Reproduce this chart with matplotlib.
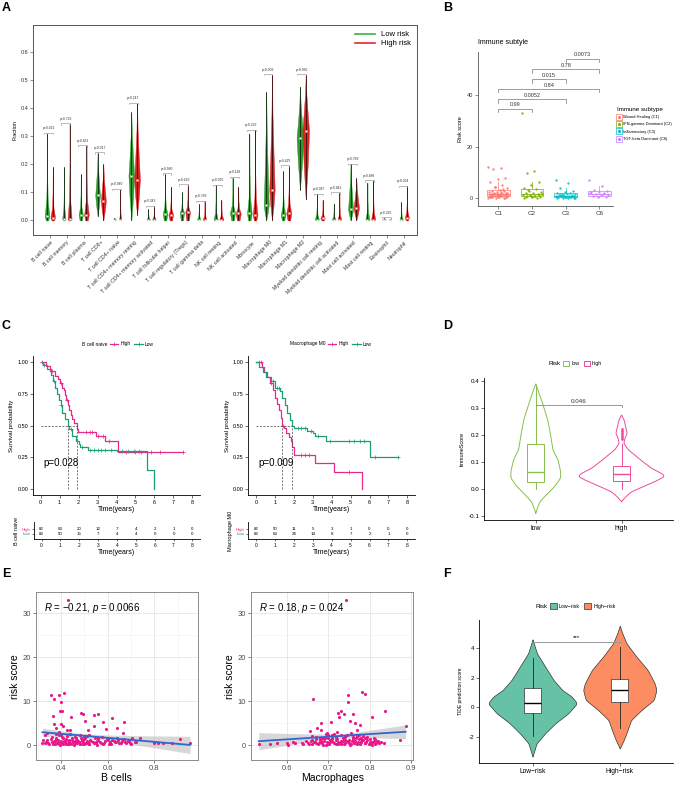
import numpy as np
import matplotlib
matplotlib.use('Agg')
import matplotlib.pyplot as plt
from matplotlib.lines import Line2D
from matplotlib.patches import Patch

plt.rcParams['font.family'] = ['Liberation Sans', 'DejaVu Sans']
plt.rcParams['mathtext.fontset'] = 'custom'
plt.rcParams['mathtext.it'] = 'Liberation Sans:italic'
plt.rcParams['mathtext.rm'] = 'Liberation Sans'
plt.rcParams['axes.linewidth'] = 0.6
plt.rcParams['xtick.major.width'] = 0.5
plt.rcParams['ytick.major.width'] = 0.5
plt.rcParams['xtick.major.size'] = 2
plt.rcParams['ytick.major.size'] = 2
plt.rcParams['xtick.major.pad'] = 1.5
plt.rcParams['ytick.major.pad'] = 1.5

# ---------------- data: panel A ----------------
cells = ['B cell naive', 'B cell memory', 'B cell plasma', 'T cell CD8+', 'T cell CD4+ naive',
         'T cell CD4+ memory resting', 'T cell CD4+ memory activated', 'T cell follicular helper',
         'T cell regulatory (Tregs)', 'T cell gamma delta', 'NK cell resting', 'NK cell activated',
         'Monocyte', 'Macrophage M0', 'Macrophage M1', 'Macrophage M2',
         'Myeloid dendritic cell resting', 'Myeloid dendritic cell activated', 'Mast cell activated',
         'Mast cell resting', 'Eosinophil', 'Neutrophil']
low_max = [0.31, 0.19, 0.165, 0.24, 0.01, 0.385, 0.04, 0.165, 0.10, 0.058, 0.125, 0.153,
           0.31, 0.457, 0.175, 0.477, 0.093, 0.06, 0.20, 0.135, 0.008, 0.065]
high_max = [0.19, 0.345, 0.266, 0.20, 0.11, 0.417, 0.05, 0.12, 0.127, 0.068, 0.073, 0.12,
            0.321, 0.52, 0.194, 0.52, 0.073, 0.097, 0.15, 0.141, 0.005, 0.121]
low_min = [0, 0, 0, 0.015, 0, 0, 0, 0, 0, 0, 0, 0, 0, 0, 0, 0.11, 0, 0, 0, 0, 0, 0]
high_min = [0, 0, 0, 0, 0, 0.02, 0, 0, 0, 0, 0, 0, 0, 0, 0, 0.075, 0, 0, 0, 0, 0, 0]
low_med = [0.015, 0.005, 0.02, 0.09, 0.0, 0.16, 0.0, 0.022, 0.028, 0.0, 0.003, 0.028,
           0.025, 0.055, 0.02, 0.295, 0.002, 0.0, 0.04, 0.003, 0.0, 0.003]
high_med = [0.01, 0.005, 0.02, 0.07, 0.0, 0.145, 0.0, 0.02, 0.03, 0.0, 0.003, 0.025,
            0.02, 0.11, 0.025, 0.32, 0.008, 0.0, 0.045, 0.003, 0.0, 0.01]
low_w = [0.14, 0.10, 0.13, 0.14, 0.08, 0.17, 0.10, 0.14, 0.13, 0.10, 0.12, 0.15,
         0.14, 0.15, 0.14, 0.20, 0.12, 0.10, 0.15, 0.12, 0.08, 0.10]
high_w = [0.14, 0.12, 0.14, 0.15, 0.06, 0.17, 0.10, 0.14, 0.14, 0.10, 0.12, 0.15,
          0.14, 0.16, 0.15, 0.20, 0.13, 0.10, 0.16, 0.12, 0.06, 0.12]
pvals = ['0.021', '0.723', '0.861', '0.017', '0.940', '0.247', '0.343', '0.980', '0.619', '0.789',
         '0.925', '0.118', '0.229', '0.009', '0.425', '0.066', '0.047', '0.842', '0.768', '0.886',
         '0.325', '0.024']

# ---------------- data: panel B ----------------
subtypes = ['C1', 'C2', 'C3', 'C6']
subtype_names = ['Wound Healing (C1)', 'IFN-gamma Dominant (C2)', 'Inflammatory (C3)', 'TGF-beta Dominant (C6)']
c1_scores = [12.3, 11.6, 11.2, 7.7, 7.5, 6.5, 5.2, 4.5, 3.9, 3.2, 3.0, 2.8, 2.6, 2.4, 2.2, 2.0, 1.9, 1.8,
             1.7, 1.6, 1.5, 1.4, 1.3, 1.2, 1.1, 1.0, 0.9, 0.8, 0.7, 0.6, 0.5, 0.4, 0.3, 0.2, 0.1, 2.5,
             1.5, 0.8, 1.2, 0.6, 3.5, 4.2, 2.1, 1.0, 0.5, 0.3, 1.7, 0.9]
c2_scores = [33.2, 10.6, 9.9, 6.5, 5.2, 4.0, 3.5, 3.1, 2.6, 2.2, 1.9, 1.6, 1.4, 1.2, 1.0, 0.8, 0.6,
             0.4, 0.3, 0.2, 2.8, 1.5, 0.9, 0.5, 1.1, 0.7]
c3_scores = [7.1, 6.1, 3.9, 2.8, 2.4, 2.2, 2.0, 1.8, 1.6, 1.5, 1.3, 1.2, 1.1, 1.0, 0.9, 0.8, 0.7, 0.6,
             0.5, 0.4, 0.3, 0.2, 0.15, 1.4, 0.9, 0.5, 0.3, 0.6, 1.0, 0.2]
c6_scores = [7.1, 4.9, 3.2, 2.8, 2.6, 2.3, 1.9, 1.6, 1.3, 1.1, 0.9, 0.6, 0.4, 2.0, 1.5]
b_q1 = [0.9, 0.9, 0.4, 0.9]
b_med = [1.5, 1.5, 0.9, 1.7]
b_q3 = [3.2, 3.6, 1.9, 2.8]
b_lo = [0.1, 0.2, 0.15, 0.4]
b_hi = [6.5, 6.5, 3.9, 4.9]
b_pairs = [(1, 2, 34.8, '0.99'), (1, 3, 38.4, '0.0052'), (1, 4, 42.4, '0.84'),
           (2, 3, 46.2, '0.015'), (2, 4, 50.1, '0.78'), (3, 4, 54.2, '0.0073')]

# ---------------- data: panel C ----------------
bn_high_t = [0, 0.3, 0.5, 0.75, 0.9, 1.0, 1.15, 1.25, 1.3, 1.36, 1.45, 1.5, 1.6, 1.67, 1.75, 1.9, 1.95, 2.9, 3.4, 4.1]
bn_high_s = [1.0, 0.97, 0.93, 0.89, 0.87, 0.84, 0.80, 0.78, 0.74, 0.70, 0.66, 0.62, 0.58, 0.55, 0.52, 0.47, 0.45, 0.42, 0.38, 0.29]
bn_high_end = 7.5
bn_high_cens = [0.1, 0.6, 1.05, 1.4, 2.4, 2.6, 2.7, 3.0, 3.3, 3.6, 4.5, 5.0, 5.3, 5.8, 6.3, 7.5]
bn_low_t = [0, 0.15, 0.35, 0.55, 0.65, 0.75, 0.85, 0.95, 1.05, 1.15, 1.3, 1.45, 1.5, 1.65, 1.85, 2.0, 2.1, 2.5, 4.0, 5.6, 6.0]
bn_low_s = [1.0, 0.98, 0.95, 0.90, 0.85, 0.80, 0.75, 0.70, 0.66, 0.60, 0.55, 0.50, 0.47, 0.42, 0.38, 0.35, 0.33, 0.31, 0.30, 0.15, 0.0]
bn_low_end = 6.0
bn_low_cens = [0.2, 0.7, 1.1, 1.6, 2.2, 2.6, 2.8, 3.0, 3.2, 3.4, 3.7, 4.3, 4.6, 4.9, 5.2]
bn_risk_high = [82, 63, 20, 12, 7, 4, 2, 1, 0]
bn_risk_low = [83, 50, 15, 7, 4, 4, 0, 0, 0]

m0_high_t = [0, 0.3, 0.45, 0.6, 0.75, 0.9, 1.0, 1.1, 1.2, 1.3, 1.4, 1.5, 1.6, 1.75, 1.85, 1.92, 2.0, 3.1, 4.15, 5.6]
m0_high_s = [1.0, 0.96, 0.92, 0.88, 0.84, 0.78, 0.72, 0.67, 0.62, 0.56, 0.50, 0.48, 0.44, 0.41, 0.38, 0.33, 0.27, 0.20, 0.13, 0.0]
m0_high_end = 5.6
m0_high_cens = [0.15, 0.25, 0.8, 1.45, 2.4, 2.6, 2.8, 4.9]
m0_low_t = [0, 0.15, 0.35, 0.55, 0.8, 1.0, 1.25, 1.4, 1.55, 1.65, 1.8, 1.9, 2.0, 2.7, 3.0, 3.1, 3.7, 6.0]
m0_low_s = [1.0, 0.96, 0.92, 0.88, 0.85, 0.80, 0.77, 0.72, 0.66, 0.60, 0.54, 0.50, 0.48, 0.46, 0.44, 0.42, 0.38, 0.25]
m0_low_end = 7.5
m0_low_cens = [0.9, 1.1, 1.2, 2.2, 2.4, 2.6, 2.9, 3.3, 3.9, 4.9, 5.2, 5.5, 5.7, 6.3, 7.5]
m0_risk_high = [82, 50, 11, 5, 3, 1, 0, 0, 0]
m0_risk_low = [83, 63, 24, 14, 8, 7, 2, 1, 0]

# ---------------- data: panel D ----------------
d_groups = ['low', 'high']
d_low_y = [-0.09, -0.07, -0.047, -0.016, 0.008, 0.04, 0.064, 0.107, 0.144, 0.205, 0.255, 0.33, 0.388]
d_low_w = [0, 0.02, 0.05, 0.14, 0.22, 0.29, 0.29, 0.26, 0.20, 0.17, 0.14, 0.066, 0]
d_high_y = [-0.047, -0.029, -0.01, 0.008, 0.027, 0.045, 0.055, 0.076, 0.1, 0.125, 0.144, 0.168,
            0.187, 0.205, 0.23, 0.255, 0.273]
d_high_w = [0, 0.05, 0.12, 0.25, 0.39, 0.5, 0.48, 0.35, 0.25, 0.155, 0.08, 0.027, 0.04, 0.066, 0.047, 0.03, 0]
d_q1 = [0.025, 0.03]
d_med = [0.062, 0.055]
d_q3 = [0.167, 0.085]
d_lo = [0.0, 0.0]
d_hi = [0.385, 0.165]
d_high_out = [0.185, 0.193, 0.2, 0.207, 0.215, 0.223]

# ---------------- data: panel E ----------------
bcell_x = [0.429, 0.357, 0.369, 0.391, 0.411, 0.399, 0.396, 0.404, 0.367, 0.443, 0.486, 0.496, 0.543,
           0.560, 0.617, 0.581, 0.670, 0.503, 0.370, 0.400, 0.410, 0.543, 0.639, 0.593, 0.516, 0.424,
           0.439, 0.664, 0.380, 0.339, 0.389, 0.703, 0.739, 0.717, 0.799, 0.817, 0.839, 0.874, 0.910,
           0.953, 0.321, 0.320,
           0.33, 0.34, 0.35, 0.36, 0.37, 0.375, 0.38, 0.385, 0.39, 0.395, 0.40, 0.405, 0.41, 0.415,
           0.42, 0.425, 0.43, 0.435, 0.44, 0.445, 0.45, 0.455, 0.46, 0.465, 0.47, 0.475, 0.48, 0.485,
           0.49, 0.495, 0.50, 0.505, 0.51, 0.515, 0.52, 0.53, 0.54, 0.545, 0.55, 0.555, 0.56, 0.57,
           0.575, 0.58, 0.59, 0.60, 0.61, 0.615, 0.62, 0.63, 0.64, 0.65, 0.66, 0.67, 0.68, 0.69, 0.70,
           0.72, 0.33, 0.36, 0.38, 0.40, 0.42, 0.44, 0.46, 0.48, 0.50, 0.52, 0.56, 0.60,
           0.335, 0.345, 0.355, 0.365, 0.372, 0.378, 0.383, 0.388, 0.393, 0.398,
           0.402, 0.407, 0.412, 0.418, 0.423, 0.428, 0.433, 0.438, 0.448, 0.452,
           0.458, 0.462, 0.468, 0.472, 0.478, 0.482, 0.488, 0.492, 0.498, 0.502,
           0.508, 0.512, 0.518, 0.525, 0.535, 0.548, 0.552, 0.565, 0.585, 0.595,
           0.605, 0.625, 0.635, 0.645, 0.655, 0.675, 0.685, 0.695]
bcell_risk = [33.0, 11.3, 10.5, 11.5, 11.9, 9.8, 7.7, 7.7, 6.6, 6.5, 7.2, 7.0, 6.8, 7.1, 6.2, 5.2, 5.2,
              5.5, 4.7, 4.9, 4.4, 4.3, 3.9, 3.6, 3.4, 3.4, 3.4, 2.7, 3.8, 2.7, 3.0, 1.5, 1.7, 0.8, 0.4,
              0.4, 0.5, 0.5, 1.4, 0.5, 1.1, 0.5,
              0.5, 1.2, 0.3, 1.8, 0.9, 0.2, 1.4, 0.6, 2.2, 0.1, 1.0, 0.4, 1.6, 0.8, 0.2, 2.0, 0.5, 1.1,
              0.3, 1.5, 0.7, 0.1, 1.9, 0.4, 1.2, 0.6, 0.2, 1.7, 0.9, 0.3, 1.3, 0.5, 2.1, 0.7, 0.2, 1.0,
              0.4, 1.6, 0.8, 0.1, 1.2, 0.5, 1.9, 0.3, 0.9, 1.4, 0.6, 0.2, 1.1, 0.7, 1.5, 0.4, 0.9, 1.3,
              0.5, 1.0, 0.3, 0.8, 2.4, 0.7, 2.6, 2.3, 1.2, 2.5, 0.9, 2.2, 1.8, 2.4, 1.7, 1.1,
              0.8, 0.4, 1.3, 0.2, 0.9, 1.6, 0.5, 1.1, 0.3, 0.7,
              1.8, 0.2, 1.0, 0.6, 1.4, 0.3, 0.9, 0.5, 1.2, 0.2,
              0.8, 1.5, 0.4, 1.0, 0.6, 0.3, 1.1, 0.7, 0.2, 1.6,
              0.4, 0.9, 0.3, 1.2, 0.6, 0.4, 1.0, 0.8, 0.5, 1.3,
              0.3, 0.9, 0.6, 1.2, 0.4, 0.7, 1.0, 0.5]
macro_x = [0.743, 0.663, 0.749, 0.749, 0.783, 0.789, 0.837, 0.805, 0.731, 0.739, 0.723, 0.759, 0.726,
           0.706, 0.753, 0.765, 0.777, 0.682, 0.674, 0.656, 0.683, 0.697, 0.721, 0.769, 0.887, 0.874,
           0.835, 0.813, 0.533, 0.560, 0.576, 0.600, 0.604, 0.616, 0.620, 0.636, 0.640, 0.647,
           0.655, 0.66, 0.665, 0.67, 0.675, 0.68, 0.685, 0.69, 0.695, 0.70, 0.705, 0.71, 0.715, 0.72,
           0.725, 0.73, 0.735, 0.74, 0.745, 0.75, 0.755, 0.76, 0.765, 0.77, 0.775, 0.78, 0.785, 0.79,
           0.795, 0.80, 0.805, 0.81, 0.815, 0.82, 0.66, 0.67, 0.68, 0.69, 0.70, 0.71, 0.72, 0.73, 0.74,
           0.75, 0.76, 0.77, 0.78, 0.79, 0.80, 0.81, 0.665, 0.685, 0.705, 0.725, 0.745, 0.765, 0.785,
           0.805, 0.695, 0.715, 0.735, 0.755, 0.775, 0.795,
           0.652, 0.658, 0.662, 0.668, 0.672, 0.678, 0.682, 0.688, 0.692, 0.698,
           0.702, 0.708, 0.712, 0.718, 0.722, 0.728, 0.732, 0.738, 0.742, 0.748,
           0.752, 0.758, 0.762, 0.768, 0.772, 0.778, 0.782, 0.788, 0.792, 0.798,
           0.802, 0.808, 0.812, 0.818, 0.822, 0.828, 0.70, 0.72, 0.74, 0.76, 0.78, 0.68, 0.73, 0.77, 0.71]
macro_risk = [33.0, 10.5, 11.3, 9.8, 12.0, 11.6, 7.7, 6.4, 7.7, 7.0, 7.3, 7.1, 6.4, 5.2, 5.5, 5.1, 4.5,
              5.1, 4.0, 3.3, 3.4, 2.8, 3.0, 3.5, 4.3, 1.1, 0.4, 1.4, 0.2, 0.2, 0.4, 0.4, 0.0, 0.75, 0.4,
              0.4, 0.15, 0.9,
              0.3, 1.2, 0.6, 1.8, 0.2, 1.0, 0.5, 1.5, 0.1, 2.2, 0.7, 1.3, 0.4, 1.9, 0.8, 0.2, 1.6, 0.5,
              2.4, 1.1, 0.3, 1.7, 0.9, 0.2, 1.4, 0.6, 2.0, 0.4, 1.2, 0.8, 0.1, 1.6, 0.5, 1.0, 2.1, 0.5,
              1.4, 0.9, 0.3, 2.3, 1.1, 0.6, 1.8, 0.4, 1.3, 2.1, 0.7, 1.5, 0.3, 0.9, 0.8, 1.7, 1.2, 0.3,
              0.9, 0.5, 1.1, 0.6, 2.6, 2.5, 1.0, 2.7, 2.4, 1.9,
              0.5, 1.0, 0.2, 0.8, 1.3, 0.4, 0.9, 0.1, 1.5, 0.6,
              0.3, 1.1, 0.7, 0.2, 1.4, 0.5, 0.9, 0.3, 1.2, 0.6,
              0.1, 1.0, 0.4, 1.6, 0.7, 0.2, 1.1, 0.5, 0.8, 0.3,
              1.3, 0.6, 0.2, 0.9, 0.4, 0.7, 1.7, 1.9, 2.0, 1.8, 1.6, 1.5, 2.2, 2.1, 1.7]

# ---------------- data: panel F ----------------
f_groups = ['Low\u2212risk', 'High\u2212risk']
f_low_y = [-3.33, -2.43, -1.75, -1.08, -0.4, 0.28, 0.73, 1.18, 1.86, 2.76, 3.66, 4.6]
f_low_w = [0, 0.046, 0.145, 0.26, 0.41, 0.51, 0.45, 0.34, 0.24, 0.145, 0.05, 0]
f_high_y = [-2.77, -2.2, -1.75, -0.85, -0.17, 0.5, 1.18, 1.63, 2.53, 3.44, 4.34, 5.0, 5.51]
f_high_w = [0, 0.046, 0.076, 0.13, 0.25, 0.39, 0.42, 0.40, 0.32, 0.19, 0.076, 0.03, 0]
f_q1 = [-0.36, 0.35]
f_med = [0.32, 1.18]
f_q3 = [1.29, 1.95]
f_lo = [-1.93, -1.41]
f_hi = [3.32, 4.11]

# =============================================================
W, H = 676, 787
fig = plt.figure(figsize=(W / 100, H / 100), dpi=100)


def add_ax(l, t, r, b):
    return fig.add_axes([l / W, 1 - b / H, (r - l) / W, (b - t) / H])


def fpos(x, y):
    return (x / W, 1 - y / H)


def letter(x, y, s):
    fig.text(x / W, 1 - y / H, s, fontsize=9, fontweight='bold', va='top', ha='left')


def smooth_profile(ky, kw, n=300):
    yy = np.linspace(ky[0], ky[-1], n)
    ww = np.interp(yy, ky, kw)
    k = np.ones(9) / 9
    ww = np.convolve(np.pad(ww, 4, mode='edge'), k, mode='valid')
    ww[0] = kw[0]
    ww[-1] = kw[-1]
    return yy, ww


# ---------------- Panel A ----------------
GREEN, RED = '#2A9A2A', '#D92323'
axA = add_ax(33, 25, 417, 235)
xs = np.arange(len(cells))
off = 0.17


def a_knots(lo, med, hi, w):
    peak = max(med, lo + 0.004)
    span = hi - peak
    if med - lo > 0.03:
        return ([lo, (lo + peak) / 2, peak, peak + 0.3 * span, peak + 0.65 * span, hi],
                [0, 0.6 * w, w, 0.6 * w, 0.2 * w, 0])
    return ([lo, peak, peak + 0.2 * span, peak + 0.5 * span, hi], [0.5 * w, w, 0.3 * w, 0.08 * w, 0])


for i in xs:
    for sgn, mn, md, mx, w, col in [(-1, low_min[i], low_med[i], low_max[i], low_w[i], GREEN),
                                     (1, high_min[i], high_med[i], high_max[i], high_w[i], RED)]:
        cx = i + sgn * off
        ky, kw = a_knots(mn, md, mx, w)
        yy = np.linspace(mn, mx, 200)
        ww = np.interp(yy, ky, kw)
        axA.fill_betweenx(yy, cx - ww, cx + ww, facecolor=col, edgecolor=col, lw=0.3)
        axA.plot([cx, cx], [mn, mx], color='black', lw=0.45)
        axA.plot(cx, md, 's', ms=1.6, mfc='white', mec='none')
    top = max(low_max[i], high_max[i]) + 0.003
    axA.plot([i - 0.32, i - 0.32, i + 0.2, i + 0.2], [top - 0.006, top, top, top - 0.006],
             color='#888888', lw=0.4)
    axA.text(i - 0.05, top + 0.008, 'p=' + pvals[i], fontsize=2.4, ha='center', va='bottom', color='#333')

axA.set_xlim(-1.0, 21.77)
axA.set_ylim(-0.052, 0.697)
axA.set_yticks([0, 0.1, 0.2, 0.3, 0.4, 0.5, 0.6])
axA.set_yticklabels(['0.0', '0.1', '0.2', '0.3', '0.4', '0.5', '0.6'], fontsize=4)
axA.set_xticks(xs)
axA.set_xticklabels(cells, rotation=45, ha='right', rotation_mode='anchor', fontsize=3.8)
axA.set_ylabel('Fraction', fontsize=4, labelpad=2)
for s in axA.spines.values():
    s.set_color('#555555')
    s.set_linewidth(0.7)
axA.tick_params(length=2, width=0.4, colors='#333')
axA.legend(handles=[Line2D([], [], color='#3CB043', lw=1.2), Line2D([], [], color='#E3262F', lw=1.2)],
           labels=['Low risk', 'High risk'], loc='upper right', frameon=False, fontsize=5.5,
           handlelength=2.6, borderaxespad=0.4, labelspacing=0.2, handletextpad=0.8)

# ---------------- Panel B ----------------
B_COLS = ['#F8766D', '#7CAE00', '#00BFC4', '#C77CFF']
axB = add_ax(478, 52, 613, 206)
b_data = [c1_scores, c2_scores, c3_scores, c6_scores]
for k in range(4):
    st = dict(med=b_med[k], q1=b_q1[k], q3=b_q3[k], whislo=b_lo[k], whishi=b_hi[k], fliers=[])
    axB.bxp([st], positions=[k + 1], widths=0.68, showfliers=False, patch_artist=True,
            boxprops=dict(facecolor='none', edgecolor=B_COLS[k], lw=0.5),
            medianprops=dict(color=B_COLS[k], lw=0.6),
            whiskerprops=dict(color=B_COLS[k], lw=0.5), capprops=dict(lw=0))
    vals = np.array(b_data[k])
    jit = ((np.arange(len(vals)) * 0.618) % 1 - 0.5) * 0.6
    axB.scatter(k + 1 + jit, vals, s=3, color=B_COLS[k], alpha=0.85, lw=0, zorder=3)
for a, b, y, lab in b_pairs:
    axB.plot([a, a, b, b], [y - 1.3, y, y, y - 1.3], color='#777777', lw=0.5)
    axB.text((a + b) / 2, y + 0.6, lab, fontsize=4, ha='center', va='bottom', color='#333')
axB.set_xlim(0.4, 4.4)
axB.set_ylim(-3, 56.8)
axB.set_xticks([1, 2, 3, 4])
axB.set_xticklabels(subtypes, fontsize=4.5)
axB.set_yticks([0, 20, 40])
axB.set_yticklabels(['0', '20', '40'], fontsize=4)
axB.set_ylabel('Risk score', fontsize=4, labelpad=3)
axB.spines['top'].set_visible(False)
axB.spines['right'].set_visible(False)
for s in ['left', 'bottom']:
    axB.spines[s].set_color('#555')
axB.tick_params(length=2, width=0.4, colors='#333')
fig.text(478 / W, 1 - 43 / H, 'Immune subtyle', fontsize=5, va='center', ha='left')
b_handles = [(Line2D([], [], marker='s', ms=4, mfc='none', mec=c, ls='', mew=0.5),
              Line2D([], [], marker='o', ms=1.2, color=c, ls='')) for c in B_COLS]
fig.legend(handles=b_handles, labels=subtype_names, loc='upper left',
           bbox_to_anchor=fpos(613, 103), frameon=False, fontsize=2.9, title='Immune subtype',
           title_fontsize=4.5, handlelength=1.0, labelspacing=0.85, handletextpad=0.5,
           alignment='left')

# ---------------- Panel C ----------------
C_HIGH, C_LOW = '#E7298A', '#1B9E77'


def step_value(t, s, x):
    idx = np.searchsorted(np.array(t), x, side='right') - 1
    return np.array(s)[idx]


def km_panel(rect, rrect, title, title_right, hi_t, hi_s, hi_end, hi_c, lo_t, lo_s, lo_end, lo_c,
             ptxt, risk_hi, risk_lo, ylab_table):
    ax = add_ax(*rect)
    for t, s, end, cens, col in [(hi_t, hi_s, hi_end, hi_c, C_HIGH), (lo_t, lo_s, lo_end, lo_c, C_LOW)]:
        tt = list(t) + [end]
        ss = list(s) + [s[-1]]
        ax.step(tt, ss, where='post', color=col, lw=0.9)
        cy = step_value(t, s, np.array(cens))
        ax.plot(cens, cy, '+', color=col, ms=2.5, mew=0.5)
    meds = []
    for t, s in [(hi_t, hi_s), (lo_t, lo_s)]:
        s_arr = np.array(s)
        j = np.argmax(s_arr <= 0.5)
        meds.append(t[j])
    ax.plot([0, max(meds)], [0.5, 0.5], ls=(0, (3, 2)), color='#444', lw=0.5)
    for m in meds:
        ax.plot([m, m], [0, 0.5], ls=(0, (3, 2)), color='#444', lw=0.5)
    ax.text(0.15, 0.2, ptxt, fontsize=7, va='center', ha='left')
    ax.set_xlim(-0.4, 8.4)
    ax.set_ylim(-0.05, 1.05)
    ax.set_xticks(range(9))
    ax.set_xticklabels([str(v) for v in range(9)], fontsize=4)
    ax.set_yticks([0, 0.25, 0.5, 0.75, 1.0])
    ax.set_yticklabels(['0.00', '0.25', '0.50', '0.75', '1.00'], fontsize=4)
    ax.set_xlabel('Time(years)', fontsize=5, labelpad=1)
    ax.set_ylabel('Survival probability', fontsize=4.5, labelpad=2)
    ax.spines['top'].set_visible(False)
    ax.spines['right'].set_visible(False)
    ax.tick_params(length=2, width=0.4)
    fig.text(title_right / W, 1 - 344 / H, title, fontsize=3.5, ha='right', va='center')
    fig.legend(handles=[Line2D([], [], color=C_HIGH, lw=0.9, marker='+', ms=2.5, mew=0.5),
                        Line2D([], [], color=C_LOW, lw=0.9, marker='+', ms=2.5, mew=0.5)],
               labels=['High', 'Low'], loc='center left', bbox_to_anchor=fpos(title_right + 2.5, 344),
               ncol=2, frameon=False, fontsize=3.5, handlelength=1.8, columnspacing=0.8,
               handletextpad=0.4, borderaxespad=0, borderpad=0)
    rt = add_ax(*rrect)
    for k in range(9):
        rt.text(k, 1, str(risk_hi[k]), ha='center', va='center', fontsize=3.2)
        rt.text(k, 0, str(risk_lo[k]), ha='center', va='center', fontsize=3.2)
    rt.set_xlim(-0.4, 8.4)
    rt.set_ylim(-1.13, 2.55)
    rt.set_yticks([1, 0])
    rt.set_yticklabels(['High', 'Low'], fontsize=3.2)
    for lab, col in zip(rt.get_yticklabels(), [C_HIGH, C_LOW]):
        lab.set_color(col)
    rt.set_xticks(range(9))
    rt.set_xticklabels([str(v) for v in range(9)], fontsize=3.5)
    rt.set_xlabel('Time(years)', fontsize=5, labelpad=1)
    rt.set_ylabel(ylab_table, fontsize=4, labelpad=2)
    rt.spines['top'].set_visible(False)
    rt.spines['right'].set_visible(False)
    rt.tick_params(axis='y', length=1.5, width=0.4, pad=1)
    rt.tick_params(axis='x', length=1.5, width=0.4, pad=1)
    return ax


km_panel((33, 356, 200, 495), (34, 522, 200, 539.3), 'B cell naive', 107,
         bn_high_t, bn_high_s, bn_high_end, bn_high_cens, bn_low_t, bn_low_s, bn_low_end, bn_low_cens,
         'p=0.028', bn_risk_high, bn_risk_low, 'B cell naive')
km_panel((248.3, 356, 415, 495), (248.3, 522, 415, 539.3), 'Macrophage M0', 325,
         m0_high_t, m0_high_s, m0_high_end, m0_high_cens, m0_low_t, m0_low_s, m0_low_end, m0_low_cens,
         'p=0.009', m0_risk_high, m0_risk_low, 'Macrophage M0')

# ---------------- Panel D ----------------
D_LOW, D_HIGH = '#86C04E', '#EB4C9B'
axD = add_ax(484.3, 378, 673, 520)
for k, (ky, kw, col) in enumerate([(d_low_y, d_low_w, D_LOW), (d_high_y, d_high_w, D_HIGH)]):
    cx = k + 1
    yy, ww = smooth_profile(ky, kw)
    axD.plot(np.concatenate([cx - ww, (cx + ww)[::-1], [cx - ww[0]]]),
             np.concatenate([yy, yy[::-1], [yy[0]]]), color=col, lw=0.7)
    st = dict(med=d_med[k], q1=d_q1[k], q3=d_q3[k], whislo=d_lo[k], whishi=d_hi[k], fliers=[])
    axD.bxp([st], positions=[cx], widths=0.2, showfliers=False, patch_artist=True,
            boxprops=dict(facecolor='none', edgecolor=col, lw=0.7),
            medianprops=dict(color=col, lw=1.0), whiskerprops=dict(color=col, lw=0.7),
            capprops=dict(lw=0))
axD.scatter([2] * len(d_high_out), d_high_out, s=4, color=D_HIGH, lw=0, zorder=4)
axD.plot([1, 2, 2], [0.31, 0.31, 0.303], color='#888888', lw=0.6)
axD.text(1.5, 0.315, '0.046', fontsize=4.5, ha='center', va='bottom', color='#333')
axD.set_xlim(0.4, 2.6)
axD.set_ylim(-0.115, 0.41)
axD.set_xticks([1, 2])
axD.set_xticklabels(d_groups, fontsize=5)
axD.set_yticks([-0.1, 0, 0.1, 0.2, 0.3, 0.4])
axD.set_yticklabels(['-0.1', '0.0', '0.1', '0.2', '0.3', '0.4'], fontsize=4.5)
axD.set_ylabel('ImmuneScore', fontsize=4, labelpad=3)
axD.spines['top'].set_visible(False)
axD.spines['right'].set_visible(False)
axD.tick_params(length=2, width=0.4)
fig.text(561 / W, 1 - 363.5 / H, 'Risk', fontsize=4.5, ha='right', va='center')
fig.legend(handles=[Patch(facecolor='white', edgecolor=D_LOW, lw=0.7),
                    Patch(facecolor='white', edgecolor=D_HIGH, lw=0.7)],
           labels=d_groups, loc='center left', bbox_to_anchor=fpos(563, 363.5), ncol=2, frameon=False,
           fontsize=3.8, handlelength=1.2, handleheight=1.2, columnspacing=0.8, handletextpad=0.4,
           borderaxespad=0, borderpad=0)

# ---------------- Panel E ----------------
PT = '#E8178A'


def corr_panel(rect, x, y, xlab, rtxt, xlim, xticks):
    ax = add_ax(*rect)
    x = np.array(x)
    y = np.array(y)
    ax.set_axisbelow(True)
    ax.grid(True, which='major', color='#E5E5E5', lw=0.6)
    ax.set_xticks(np.arange(xticks[0] - 0.1, xticks[-1] + 0.11, 0.1), minor=True)
    ax.set_yticks([5, 15, 25], minor=True)
    ax.grid(True, which='minor', color='#F2F2F2', lw=0.4)
    ax.scatter(x, y, s=5, color=PT, lw=0, zorder=3)
    n = len(x)
    b1, b0 = np.polyfit(x, y, 1)
    xx = np.linspace(x.min(), x.max(), 100)
    yhat = b0 + b1 * xx
    resid = y - (b0 + b1 * x)
    s_err = np.sqrt(np.sum(resid ** 2) / (n - 2))
    se = s_err * np.sqrt(1 / n + (xx - x.mean()) ** 2 / np.sum((x - x.mean()) ** 2))
    ax.fill_between(xx, yhat - 1.97 * se, yhat + 1.97 * se, color='#BDBDBD', alpha=0.6, lw=0, zorder=2)
    ax.plot(xx, yhat, color='#3366CC', lw=1.3, zorder=4)
    ax.text(0.05, 0.905, rtxt, transform=ax.transAxes, fontsize=7, va='center', ha='left')
    ax.set_xlim(*xlim)
    ax.set_ylim(-3.4, 34.8)
    ax.set_xticks(xticks)
    ax.set_xticklabels([f'{v:.1f}' for v in xticks], fontsize=5.5, color='#4D4D4D')
    ax.set_yticks([0, 10, 20, 30])
    ax.set_yticklabels(['0', '10', '20', '30'], fontsize=5.5, color='#4D4D4D')
    ax.tick_params(which='minor', length=0)
    ax.tick_params(which='major', length=2, width=0.5, colors='#4D4D4D', labelcolor='#4D4D4D')
    ax.set_xlabel(xlab, fontsize=7.5, labelpad=1)
    ax.set_ylabel('risk score', fontsize=7.5, labelpad=2)
    for s in ax.spines.values():
        s.set_color('#8C8C8C')
        s.set_linewidth(0.7)
    return ax


corr_panel((35.7, 592.3, 197.7, 760), bcell_x, bcell_risk, 'B cells',
           '$R$ = \u22120.21, $p$ = 0.0066', (0.291, 0.986), [0.4, 0.6, 0.8])
corr_panel((251, 592.3, 413.3, 760), macro_x, macro_risk, 'Macrophages',
           '$R$ = 0.18, $p$ = 0.024', (0.514, 0.9056), [0.6, 0.7, 0.8, 0.9])

# ---------------- Panel F ----------------
F_LOW, F_HIGH = '#66C2A5', '#FC8D62'
axF = add_ax(479.3, 620, 673, 762.7)
for k, (ky, kw, col) in enumerate([(f_low_y, f_low_w, F_LOW), (f_high_y, f_high_w, F_HIGH)]):
    cx = k + 1
    yy, ww = smooth_profile(ky, kw)
    axF.fill_betweenx(yy, cx - ww, cx + ww, facecolor=col, edgecolor='#333333', lw=0.5)
    st = dict(med=f_med[k], q1=f_q1[k], q3=f_q3[k], whislo=f_lo[k], whishi=f_hi[k], fliers=[])
    axF.bxp([st], positions=[cx], widths=0.19, showfliers=False, patch_artist=True,
            boxprops=dict(facecolor='white', edgecolor='#333333', lw=0.5),
            medianprops=dict(color='black', lw=1.0), whiskerprops=dict(color='#222', lw=0.6),
            capprops=dict(lw=0))
axF.plot([1, 2], [4.45, 4.45], color='#999999', lw=0.7)
axF.text(1.5, 4.55, '***', fontsize=4.5, ha='center', va='bottom')
axF.set_xlim(0.39, 2.61)
axF.set_ylim(-3.74, 5.91)
axF.set_xticks([1, 2])
axF.set_xticklabels(f_groups, fontsize=4.8)
axF.set_yticks([-2, 0, 2, 4])
axF.set_yticklabels(['-2', '0', '2', '4'], fontsize=4.5)
axF.set_ylabel('TIDE prediction score', fontsize=3.5, labelpad=4)
axF.spines['top'].set_visible(False)
axF.spines['right'].set_visible(False)
axF.tick_params(length=2, width=0.4)
fig.text(548 / W, 1 - 606 / H, 'Risk', fontsize=4.5, ha='right', va='center')
fig.legend(handles=[Patch(facecolor=F_LOW, edgecolor='#333', lw=0.5),
                    Patch(facecolor=F_HIGH, edgecolor='#333', lw=0.5)],
           labels=f_groups, loc='center left', bbox_to_anchor=fpos(550, 606), ncol=2, frameon=False,
           fontsize=3.8, handlelength=1.3, handleheight=1.2, columnspacing=0.8, handletextpad=0.4,
           borderaxespad=0, borderpad=0)

# ---------------- panel letters ----------------
letter(2, 2, 'A')
letter(443, 2, 'B')
letter(2, 320, 'C')
letter(443, 320, 'D')
letter(2, 568, 'E')
letter(443, 568, 'F')

fig.savefig('out.png', dpi=100, facecolor='white')
